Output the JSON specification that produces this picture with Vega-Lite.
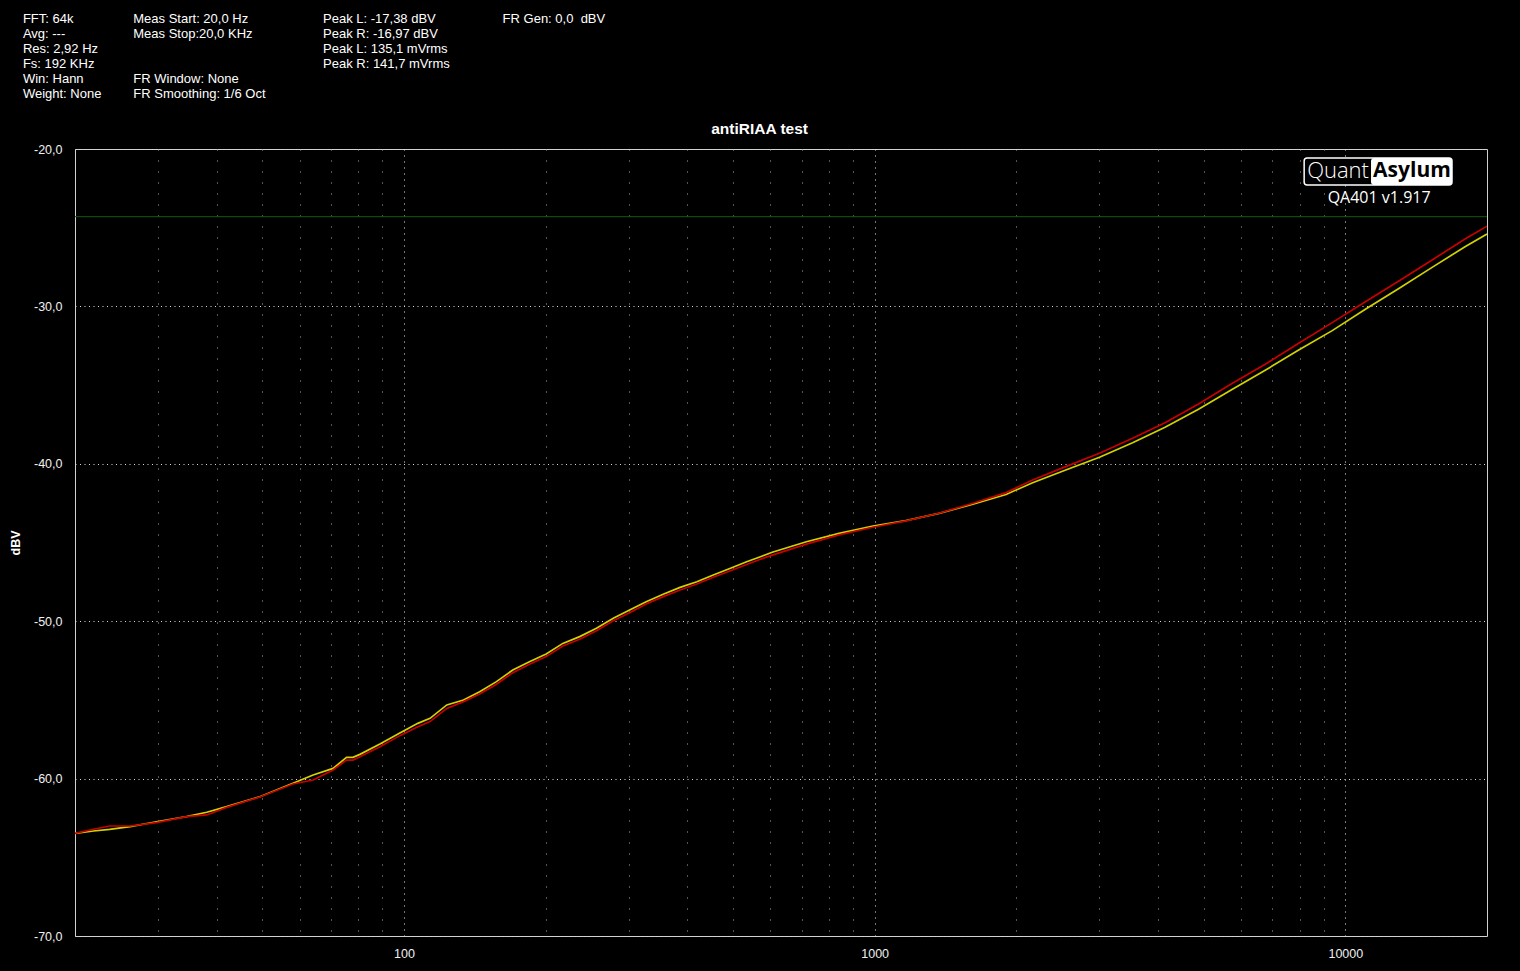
{
  "$schema": "https://vega.github.io/schema/vega-lite/v6.json",
  "width": 1412,
  "height": 787,
  "autosize": {"type": "none"},
  "padding": {"left": 75, "top": 149, "right": 33, "bottom": 35},
  "background": "#000000",
  "config": {"view": {"stroke": "#d0d0d0", "strokeWidth": 1}},
  "layer": [
    {
      "data": {"values": [
        {"channel":"L","freq_hz":20,"level_dbv":-63.48},{"channel":"L","freq_hz":21.9,"level_dbv":-63.33},{"channel":"L","freq_hz":23.7,"level_dbv":-63.22},{"channel":"L","freq_hz":26.2,"level_dbv":-63.05},{"channel":"L","freq_hz":29.8,"level_dbv":-62.74},{"channel":"L","freq_hz":34.5,"level_dbv":-62.42},{"channel":"L","freq_hz":38.1,"level_dbv":-62.14},{"channel":"L","freq_hz":42,"level_dbv":-61.78},{"channel":"L","freq_hz":49.4,"level_dbv":-61.15},{"channel":"L","freq_hz":58.1,"level_dbv":-60.30},{"channel":"L","freq_hz":64.1,"level_dbv":-59.77},{"channel":"L","freq_hz":70.7,"level_dbv":-59.35},{"channel":"L","freq_hz":75.5,"level_dbv":-58.65},{"channel":"L","freq_hz":77.9,"level_dbv":-58.65},{"channel":"L","freq_hz":80.6,"level_dbv":-58.46},{"channel":"L","freq_hz":88.9,"level_dbv":-57.80},{"channel":"L","freq_hz":98,"level_dbv":-57.10},{"channel":"L","freq_hz":107,"level_dbv":-56.49},{"channel":"L","freq_hz":113.6,"level_dbv":-56.17},{"channel":"L","freq_hz":123.3,"level_dbv":-55.32},{"channel":"L","freq_hz":133.8,"level_dbv":-55.01},{"channel":"L","freq_hz":144.8,"level_dbv":-54.48},{"channel":"L","freq_hz":157.2,"level_dbv":-53.84},{"channel":"L","freq_hz":170.3,"level_dbv":-53.10},{"channel":"L","freq_hz":184.7,"level_dbv":-52.57},{"channel":"L","freq_hz":200.5,"level_dbv":-52.08},{"channel":"L","freq_hz":217.5,"level_dbv":-51.41},{"channel":"L","freq_hz":236.2,"level_dbv":-50.98},{"channel":"L","freq_hz":256.4,"level_dbv":-50.45},{"channel":"L","freq_hz":278.4,"level_dbv":-49.82},{"channel":"L","freq_hz":301.6,"level_dbv":-49.29},{"channel":"L","freq_hz":327,"level_dbv":-48.76},{"channel":"L","freq_hz":355.4,"level_dbv":-48.29},{"channel":"L","freq_hz":386,"level_dbv":-47.85},{"channel":"L","freq_hz":419,"level_dbv":-47.49},{"channel":"L","freq_hz":454,"level_dbv":-47.07},{"channel":"L","freq_hz":494,"level_dbv":-46.64},{"channel":"L","freq_hz":534.6,"level_dbv":-46.22},{"channel":"L","freq_hz":570,"level_dbv":-45.92},{"channel":"L","freq_hz":606,"level_dbv":-45.62},{"channel":"L","freq_hz":716,"level_dbv":-44.95},{"channel":"L","freq_hz":840,"level_dbv":-44.42},{"channel":"L","freq_hz":992,"level_dbv":-43.95},{"channel":"L","freq_hz":1165,"level_dbv":-43.61},{"channel":"L","freq_hz":1370,"level_dbv":-43.15},{"channel":"L","freq_hz":1617,"level_dbv":-42.57},{"channel":"L","freq_hz":1902,"level_dbv":-41.95},{"channel":"L","freq_hz":2166,"level_dbv":-41.20},{"channel":"L","freq_hz":2547,"level_dbv":-40.39},{"channel":"L","freq_hz":3004,"level_dbv":-39.58},{"channel":"L","freq_hz":3532,"level_dbv":-38.66},{"channel":"L","freq_hz":4140,"level_dbv":-37.68},{"channel":"L","freq_hz":4876,"level_dbv":-36.54},{"channel":"L","freq_hz":5720,"level_dbv":-35.31},{"channel":"L","freq_hz":6772,"level_dbv":-34.04},{"channel":"L","freq_hz":7960,"level_dbv":-32.77},{"channel":"L","freq_hz":9380,"level_dbv":-31.54},{"channel":"L","freq_hz":11030,"level_dbv":-30.18},{"channel":"L","freq_hz":13020,"level_dbv":-28.85},{"channel":"L","freq_hz":15290,"level_dbv":-27.52},{"channel":"L","freq_hz":17960,"level_dbv":-26.21},{"channel":"L","freq_hz":20000,"level_dbv":-25.40},
        {"channel":"R","freq_hz":20,"level_dbv":-63.48},{"channel":"R","freq_hz":21.9,"level_dbv":-63.22},{"channel":"R","freq_hz":23.7,"level_dbv":-63.01},{"channel":"R","freq_hz":26.2,"level_dbv":-63.01},{"channel":"R","freq_hz":29.8,"level_dbv":-62.80},{"channel":"R","freq_hz":34.5,"level_dbv":-62.42},{"channel":"R","freq_hz":38.1,"level_dbv":-62.31},{"channel":"R","freq_hz":42,"level_dbv":-61.83},{"channel":"R","freq_hz":49.4,"level_dbv":-61.17},{"channel":"R","freq_hz":58.1,"level_dbv":-60.34},{"channel":"R","freq_hz":64.1,"level_dbv":-60.09},{"channel":"R","freq_hz":70.7,"level_dbv":-59.45},{"channel":"R","freq_hz":75.5,"level_dbv":-58.82},{"channel":"R","freq_hz":77.9,"level_dbv":-58.82},{"channel":"R","freq_hz":80.6,"level_dbv":-58.61},{"channel":"R","freq_hz":88.9,"level_dbv":-57.97},{"channel":"R","freq_hz":98,"level_dbv":-57.27},{"channel":"R","freq_hz":107,"level_dbv":-56.70},{"channel":"R","freq_hz":113.6,"level_dbv":-56.38},{"channel":"R","freq_hz":123.3,"level_dbv":-55.54},{"channel":"R","freq_hz":133.8,"level_dbv":-55.11},{"channel":"R","freq_hz":144.8,"level_dbv":-54.63},{"channel":"R","freq_hz":157.2,"level_dbv":-54.01},{"channel":"R","freq_hz":170.3,"level_dbv":-53.27},{"channel":"R","freq_hz":184.7,"level_dbv":-52.74},{"channel":"R","freq_hz":200.5,"level_dbv":-52.25},{"channel":"R","freq_hz":217.5,"level_dbv":-51.58},{"channel":"R","freq_hz":236.2,"level_dbv":-51.15},{"channel":"R","freq_hz":256.4,"level_dbv":-50.60},{"channel":"R","freq_hz":278.4,"level_dbv":-49.97},{"channel":"R","freq_hz":301.6,"level_dbv":-49.46},{"channel":"R","freq_hz":327,"level_dbv":-48.91},{"channel":"R","freq_hz":355.4,"level_dbv":-48.44},{"channel":"R","freq_hz":386,"level_dbv":-48.02},{"channel":"R","freq_hz":419,"level_dbv":-47.64},{"channel":"R","freq_hz":454,"level_dbv":-47.21},{"channel":"R","freq_hz":494,"level_dbv":-46.79},{"channel":"R","freq_hz":534.6,"level_dbv":-46.40},{"channel":"R","freq_hz":570,"level_dbv":-46.08},{"channel":"R","freq_hz":606,"level_dbv":-45.80},{"channel":"R","freq_hz":716,"level_dbv":-45.10},{"channel":"R","freq_hz":840,"level_dbv":-44.52},{"channel":"R","freq_hz":992,"level_dbv":-44.03},{"channel":"R","freq_hz":1165,"level_dbv":-43.63},{"channel":"R","freq_hz":1370,"level_dbv":-43.14},{"channel":"R","freq_hz":1617,"level_dbv":-42.51},{"channel":"R","freq_hz":1902,"level_dbv":-41.83},{"channel":"R","freq_hz":2166,"level_dbv":-41.03},{"channel":"R","freq_hz":2547,"level_dbv":-40.18},{"channel":"R","freq_hz":3004,"level_dbv":-39.33},{"channel":"R","freq_hz":3532,"level_dbv":-38.38},{"channel":"R","freq_hz":4140,"level_dbv":-37.39},{"channel":"R","freq_hz":4876,"level_dbv":-36.20},{"channel":"R","freq_hz":5720,"level_dbv":-34.93},{"channel":"R","freq_hz":6772,"level_dbv":-33.66},{"channel":"R","freq_hz":7960,"level_dbv":-32.34},{"channel":"R","freq_hz":9380,"level_dbv":-31.03},{"channel":"R","freq_hz":11030,"level_dbv":-29.70},{"channel":"R","freq_hz":13020,"level_dbv":-28.37},{"channel":"R","freq_hz":15290,"level_dbv":-27.05},{"channel":"R","freq_hz":17960,"level_dbv":-25.72},{"channel":"R","freq_hz":20000,"level_dbv":-24.90}
      ]},
      "mark": {"type": "line", "strokeWidth": 1.7, "clip": true},
      "encoding": {
        "x": {
          "field": "freq_hz", "type": "quantitative",
          "scale": {"type": "log", "domain": [20, 20000], "nice": false},
          "axis": {
            "title": null,
            "values": [30,40,50,60,70,80,90,100,200,300,400,500,600,700,800,900,1000,2000,3000,4000,5000,6000,7000,8000,9000,10000],
            "labelExpr": "(datum.value == 100 || datum.value == 1000 || datum.value == 10000) ? ('' + datum.value) : ''",
            "labelOverlap": false, "labelFlush": false,
            "domain": false, "ticks": false, "tickSize": 0, "labelPadding": 11,
            "labelColor": "#f0f0f0", "labelFont": "Liberation Sans", "labelFontSize": 12.5,
            "grid": true, "gridWidth": 1,
            "gridColor": {"condition": {"test": "datum.value == 100 || datum.value == 1000 || datum.value == 10000", "value": "#e8e8e8"}, "value": "#a8a8a8"},
            "gridDash": {"condition": {"test": "datum.value == 100 || datum.value == 1000 || datum.value == 10000", "value": [1, 5]}, "value": [1, 10]}
          }
        },
        "y": {
          "field": "level_dbv", "type": "quantitative",
          "scale": {"domain": [-70, -20], "nice": false, "zero": false},
          "axis": {
            "title": "dBV",
            "values": [-70, -60, -50, -40, -30, -20],
            "labelExpr": "(datum.value < 0 ? '-' : '') + replace(format(abs(datum.value), '.1f'), '.', ',')",
            "labelOverlap": false, "labelFlush": false,
            "domain": false, "ticks": false, "tickSize": 0, "labelPadding": 13,
            "labelColor": "#f0f0f0", "labelFont": "Liberation Sans", "labelFontSize": 12.5,
            "grid": true, "gridWidth": 1, "gridColor": "#d8d8d8", "gridDash": [1, 3.5],
            "titleColor": "#ffffff", "titleFont": "Liberation Sans", "titleFontSize": 12.5, "titleFontWeight": "bold", "titlePadding": 11
          }
        },
        "color": {"field": "channel", "type": "nominal", "scale": {"domain": ["L", "R"], "range": ["#d2d200", "#c80000"]}, "legend": null}
      }
    },
    {
      "data": {"values": [{"marker_dbv": -24.3}]},
      "mark": {"type": "rule", "color": "#0b5e0b", "strokeWidth": 1},
      "encoding": {"y": {"field": "marker_dbv", "type": "quantitative", "title": "dBV"}}
    },
    {
      "data": {"values": [{"brand": "QuantAsylum"}]},
      "mark": {"type": "rect", "fill": "#000000", "stroke": "#ffffff", "strokeWidth": 1.5, "cornerRadius": 3},
      "encoding": {
        "x": {"datum": 8176, "type": "quantitative", "title": null},
        "x2": {"datum": 16852},
        "y": {"datum": -20.57, "type": "quantitative", "title": "dBV"},
        "y2": {"datum": -22.29}
      }
    },
    {
      "data": {"values": [{"brand": "QuantAsylum"}]},
      "mark": {"type": "rect", "fill": "#ffffff", "cornerRadius": 3},
      "encoding": {
        "x": {"datum": 11340, "type": "quantitative", "title": null},
        "x2": {"datum": 16852},
        "y": {"datum": -20.57, "type": "quantitative", "title": "dBV"},
        "y2": {"datum": -22.29}
      }
    },
    {
      "data": {"values": [{"label": "Quant"}]},
      "mark": {"type": "text", "align": "left", "baseline": "middle", "font": "Open Sans", "fontSize": 22, "fontWeight": 300, "color": "#ffffff"},
      "encoding": {
        "x": {"datum": 8296, "type": "quantitative", "title": null},
        "y": {"datum": -21.4, "type": "quantitative", "title": "dBV"},
        "text": {"field": "label"}
      }
    },
    {
      "data": {"values": [{"label": "Asylum"}]},
      "mark": {"type": "text", "align": "left", "baseline": "middle", "font": "Open Sans", "fontSize": 21, "fontWeight": "bold", "color": "#000000"},
      "encoding": {
        "x": {"datum": 11456, "type": "quantitative", "title": null},
        "y": {"datum": -21.4, "type": "quantitative", "title": "dBV"},
        "text": {"field": "label"}
      }
    },
    {
      "data": {"values": [{"label": "QA401 v1.917"}]},
      "mark": {"type": "text", "align": "center", "baseline": "middle", "font": "Open Sans", "fontSize": 16, "color": "#ffffff"},
      "encoding": {
        "x": {"datum": 11797, "type": "quantitative", "title": null},
        "y": {"datum": -23.11, "type": "quantitative", "title": "dBV"},
        "text": {"field": "label"}
      }
    },
    {
      "data": {"values": [{"chart_title": "antiRIAA test"}]},
      "mark": {"type": "text", "align": "center", "baseline": "middle", "font": "Liberation Sans", "fontSize": 15.5, "fontWeight": "bold", "color": "#ffffff"},
      "encoding": {
        "x": {"datum": 569.6, "type": "quantitative", "title": null},
        "y": {"datum": -18.73, "type": "quantitative", "title": "dBV"},
        "text": {"field": "chart_title"}
      }
    },
    {
      "data": {"values": [{"block": "FFT: 64k\nAvg: ---\nRes: 2,92 Hz\nFs: 192 KHz\nWin: Hann\nWeight: None"}]},
      "mark": {"type": "text", "align": "left", "baseline": "top", "lineBreak": "\n", "lineHeight": 15, "font": "Liberation Sans", "fontSize": 13, "color": "#ffffff"},
      "encoding": {
        "x": {"datum": 15.5, "type": "quantitative", "title": null},
        "y": {"datum": -11.36, "type": "quantitative", "title": "dBV"},
        "text": {"field": "block"}
      }
    },
    {
      "data": {"values": [{"block": "Meas Start: 20,0 Hz\nMeas Stop:20,0 KHz"}]},
      "mark": {"type": "text", "align": "left", "baseline": "top", "lineBreak": "\n", "lineHeight": 15, "font": "Liberation Sans", "fontSize": 13, "color": "#ffffff"},
      "encoding": {
        "x": {"datum": 26.6, "type": "quantitative", "title": null},
        "y": {"datum": -11.36, "type": "quantitative", "title": "dBV"},
        "text": {"field": "block"}
      }
    },
    {
      "data": {"values": [{"block": "FR Window: None\nFR Smoothing: 1/6 Oct"}]},
      "mark": {"type": "text", "align": "left", "baseline": "top", "lineBreak": "\n", "lineHeight": 15, "font": "Liberation Sans", "fontSize": 13, "color": "#ffffff"},
      "encoding": {
        "x": {"datum": 26.6, "type": "quantitative", "title": null},
        "y": {"datum": -15.17, "type": "quantitative", "title": "dBV"},
        "text": {"field": "block"}
      }
    },
    {
      "data": {"values": [{"block": "Peak L: -17,38 dBV\nPeak R: -16,97 dBV\nPeak L: 135,1 mVrms\nPeak R: 141,7 mVrms"}]},
      "mark": {"type": "text", "align": "left", "baseline": "top", "lineBreak": "\n", "lineHeight": 15, "font": "Liberation Sans", "fontSize": 13, "color": "#ffffff"},
      "encoding": {
        "x": {"datum": 67.3, "type": "quantitative", "title": null},
        "y": {"datum": -11.36, "type": "quantitative", "title": "dBV"},
        "text": {"field": "block"}
      }
    },
    {
      "data": {"values": [{"block": "FR Gen: 0,0\u00a0 dBV"}]},
      "mark": {"type": "text", "align": "left", "baseline": "top", "lineBreak": "\n", "lineHeight": 15, "font": "Liberation Sans", "fontSize": 13, "color": "#ffffff"},
      "encoding": {
        "x": {"datum": 162, "type": "quantitative", "title": null},
        "y": {"datum": -11.36, "type": "quantitative", "title": "dBV"},
        "text": {"field": "block"}
      }
    }
  ]
}
